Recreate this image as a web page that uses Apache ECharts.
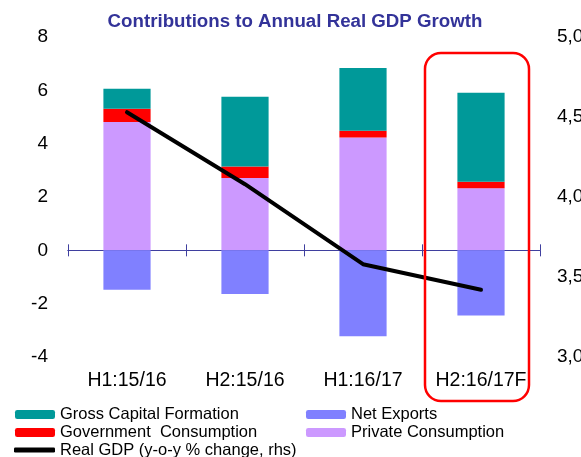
<!DOCTYPE html>
<html>
<head>
<meta charset="utf-8">
<script src="https://cdn.jsdelivr.net/npm/echarts@6/dist/echarts.min.js"></script>
<style>
html, body { margin: 0; padding: 0; background: #fff; }
#main { width: 581px; height: 457px; }
</style>
</head>
<body>
<div id="main"></div>
<script>
var categories = ['H1:15/16', 'H2:15/16', 'H1:16/17', 'H2:16/17F'];
var privateCons = [4.81, 2.71, 4.23, 2.33];
var govCons = [0.50, 0.43, 0.25, 0.24];
var grossCapital = [0.75, 2.62, 2.36, 3.34];
var netExports = [-1.48, -1.64, -3.22, -2.44];
var realGdp = [4.53, 4.08, 3.58, 3.42];

var FONT = '"Liberation Sans", Arial, sans-serif';
var AXIS_BLUE = '#3f3f9f';

var myChart = echarts.init(document.getElementById('main'));

function barSeries(name, data, color) {
	return {
		name : name,
		type : 'bar',
		stack : 'gdp',
		barWidth : '40%',
		itemStyle : { color : color },
		data : data
	};
}

function legendBox(left, top, names, extra) {
	var lg = {
		orient : 'vertical',
		left : left,
		top : top,
		padding : 0,
		itemWidth : 40,
		itemHeight : 9,
		itemGap : 1,
		selectedMode : false,
		textStyle : { fontFamily : FONT, fontSize : 16.5, color : '#000' },
		data : names
	};
	for (var k in extra) lg[k] = extra[k];
	return lg;
}

var option = {
	animation : false,
	textStyle : { fontFamily : FONT },
	title : {
		text : 'Contributions to Annual Real GDP Growth',
		left : 295,
		textAlign : 'center',
		top : 12,
		padding : 0,
		textStyle : {
			fontFamily : FONT,
			fontSize : 18.7,
			fontWeight : 'bold',
			color : '#333399'
		}
	},
	grid : {
		left : 68,
		right : 41,
		top : 37,
		bottom : 100,
		outerBoundsMode : 'none'
	},
	legend : [
		legendBox(15, 406, [ 'Gross Capital Formation', 'Government  Consumption' ]),
		legendBox(306, 406, [ 'Net Exports', 'Private Consumption' ]),
		legendBox(14, 441.5, [ 'Real GDP (y-o-y % change, rhs)' ], {
			itemWidth : 41,
			itemHeight : 5,
			icon : 'roundRect'
		})
	],
	xAxis : [ {
		// labels at the bottom of the plot
		type : 'category',
		data : categories,
		position : 'bottom',
		axisLine : { show : false, onZero : false },
		axisTick : { show : false },
		axisLabel : {
			interval : 0,
			margin : 14,
			fontSize : 19.5,
			color : '#000',
			fontFamily : FONT
		}
	}, {
		// zero line, ticks pointing down
		type : 'category',
		data : categories,
		position : 'bottom',
		axisLine : { show : true, onZero : true, onZeroAxisIndex : 0, lineStyle : { color : AXIS_BLUE, width : 1 } },
		axisTick : { show : true, length : 6, lineStyle : { color : AXIS_BLUE } },
		axisLabel : { show : false }
	}, {
		// zero line, ticks pointing up
		type : 'category',
		data : categories,
		position : 'top',
		axisLine : { show : true, onZero : true, onZeroAxisIndex : 0, lineStyle : { color : AXIS_BLUE, width : 1 } },
		axisTick : { show : true, length : 6, lineStyle : { color : AXIS_BLUE } },
		axisLabel : { show : false }
	} ],
	yAxis : [ {
		type : 'value',
		min : -4,
		max : 8,
		interval : 2,
		axisLine : { show : false },
		axisTick : { show : false },
		splitLine : { show : false },
		axisLabel : {
			margin : 20,
			fontSize : 19,
			color : '#000',
			fontFamily : FONT
		}
	}, {
		type : 'value',
		min : 3,
		max : 5,
		interval : 0.5,
		position : 'right',
		axisLine : { show : false },
		axisTick : { show : false },
		splitLine : { show : false },
		axisLabel : {
			margin : 17,
			fontSize : 19,
			color : '#000',
			fontFamily : FONT,
			formatter : function(v) {
				return v.toFixed(2).replace('.', ',');
			}
		}
	} ],
	series : [
		barSeries('Private Consumption', privateCons, '#cc99ff'),
		barSeries('Government  Consumption', govCons, '#ff0000'),
		barSeries('Gross Capital Formation', grossCapital, '#009999'),
		barSeries('Net Exports', netExports, '#8080ff'),
		{
			name : 'Real GDP (y-o-y % change, rhs)',
			type : 'line',
			yAxisIndex : 1,
			symbol : 'none',
			lineStyle : { color : '#000', width : 4, cap : 'round' },
			itemStyle : { color : '#000' },
			z : 5,
			data : realGdp
		}
	]
};

myChart.setOption(option);

// red rounded box highlighting the forecast half-year
var cx = myChart.convertToPixel({ xAxisIndex : 0 }, categories[3]);
var topY = myChart.convertToPixel({ yAxisIndex : 0 }, 7.4);
var botY = myChart.convertToPixel({ yAxisIndex : 0 }, -5.65);
myChart.setOption({
	graphic : [ {
		type : 'rect',
		shape : { x : cx - 56, y : topY, width : 104, height : botY - topY, r : 16 },
		style : { fill : 'none', stroke : '#ff0000', lineWidth : 2.5 },
		z : 10
	} ]
});
</script>
</body>
</html>
